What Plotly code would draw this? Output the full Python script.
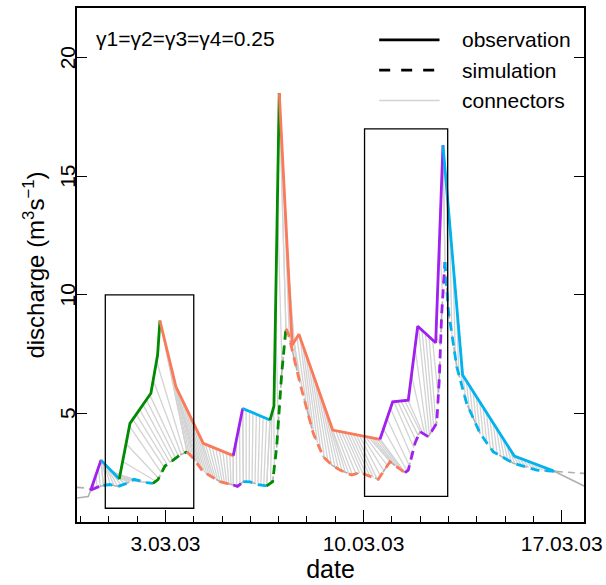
import numpy as np
import pandas as pd
import plotly.graph_objects as go

# ---------------- data ----------------
obs_time = ["2003-02-27 21:00", "2003-02-28 06:30", "2003-02-28 08:30", "2003-02-28 17:20",
            "2003-03-01 08:50", "2003-03-01 17:55", "2003-03-02 11:40", "2003-03-02 17:20",
            "2003-03-02 19:20", "2003-03-03 08:55", "2003-03-04 08:05", "2003-03-05 09:30",
            "2003-03-05 17:30", "2003-03-06 16:40", "2003-03-06 20:00", "2003-03-07 00:30",
            "2003-03-07 11:30", "2003-03-07 17:10", "2003-03-08 21:50", "2003-03-10 13:55",
            "2003-03-11 00:40", "2003-03-11 13:55", "2003-03-11 21:55", "2003-03-12 13:10",
            "2003-03-12 19:20", "2003-03-13 12:00", "2003-03-15 07:50", "2003-03-16 16:50",
            "2003-03-17 18:55"]
obs_value = [1.43, 1.49, 1.74, 3.03, 2.23, 4.58, 5.85, 7.46, 8.91, 6.12, 3.74, 3.22,
             5.21, 4.72, 5.31, 18.51, 7.88, 8.34, 4.30, 3.91, 5.49, 5.56, 8.68, 7.98,
             16.31, 6.62, 3.20, 2.58, 1.94]

sim_time = ["2003-02-27 21:00", "2003-02-28 06:15", "2003-02-28 08:50", "2003-02-28 13:55",
            "2003-02-28 19:25", "2003-03-01 00:55", "2003-03-01 07:40", "2003-03-01 15:05",
            "2003-03-01 21:15", "2003-03-02 02:25", "2003-03-02 08:20", "2003-03-02 13:25",
            "2003-03-02 17:40", "2003-03-02 23:35", "2003-03-03 06:40", "2003-03-03 12:15",
            "2003-03-03 18:15", "2003-03-03 23:35", "2003-03-04 08:05", "2003-03-04 22:15",
            "2003-03-05 09:30", "2003-03-05 13:05", "2003-03-05 18:00", "2003-03-05 23:40",
            "2003-03-06 06:30", "2003-03-06 13:50", "2003-03-06 18:55", "2003-03-06 22:20",
            "2003-03-07 02:35", "2003-03-07 06:10", "2003-03-07 08:10", "2003-03-07 18:05",
            "2003-03-08 05:20", "2003-03-08 13:50", "2003-03-08 21:10", "2003-03-09 04:00",
            "2003-03-09 13:55", "2003-03-09 21:00", "2003-03-10 12:25", "2003-03-10 22:25",
            "2003-03-11 11:05", "2003-03-11 13:55", "2003-03-11 19:35", "2003-03-11 23:50",
            "2003-03-12 06:50", "2003-03-12 14:00", "2003-03-12 16:10", "2003-03-12 18:15",
            "2003-03-12 21:00", "2003-03-12 23:50", "2003-03-13 07:00", "2003-03-13 15:25",
            "2003-03-14 02:45", "2003-03-14 14:00", "2003-03-15 07:00", "2003-03-16 02:50",
            "2003-03-16 22:35", "2003-03-17 18:55"]
sim_value = [1.88, 1.85, 1.77, 1.88, 1.96, 2.00, 1.92, 2.05, 2.22, 2.15, 2.08, 2.05,
             2.21, 2.78, 3.03, 3.24, 3.38, 3.11, 2.54, 2.12, 1.98, 1.92, 2.12, 2.11,
             2.00, 1.94, 2.12, 3.59, 6.69, 8.58, 8.37, 6.27, 4.16, 3.17, 2.82, 2.61,
             2.40, 2.50, 2.22, 2.96, 2.50, 2.61, 3.74, 4.23, 4.02, 4.58, 6.41, 9.22,
             11.38, 9.36, 6.97, 5.42, 4.16, 3.38, 2.90, 2.61, 2.54, 2.47]

# segment borders (indices into the series) and segment colours
obs_break_idx = [2, 3, 4, 8, 11, 12, 13, 15, 19, 24, 27]
sim_break_idx = [2, 4, 11, 16, 20, 22, 25, 29, 40, 48, 56]
segment_colors = ["#A020F0", "#00B2EE", "#008B00", "#FA7A5A",
                  "#A020F0", "#00B2EE", "#008B00", "#FA7A5A",
                  "#A020F0", "#00B2EE"]

# highlight boxes
box_x0 = ["2003-02-28 21:00", "2003-03-10 00:50"]
box_x1 = ["2003-03-04 00:00", "2003-03-12 23:20"]
box_y0 = [1.0, 1.5]
box_y1 = [10.0, 17.0]

x_range = ["2003-02-27 21:00", "2003-03-17 18:55"]
y_range = [0.42, 22.1]
x_tick_vals = ["2003-03-03", "2003-03-10", "2003-03-17"]
y_tick_vals = [5, 10, 15, 20]
y_tick_text = ["5", "10", "15", "20"]

# ---------------- build figure ----------------
ot = pd.to_datetime(obs_time)
st = pd.to_datetime(sim_time)
ov = np.array(obs_value)
sv = np.array(sim_value)
ot_num = ot.astype("int64").to_numpy().astype(float)
st_num = st.astype("int64").to_numpy().astype(float)

FONT = "Liberation Sans, Arial, Helvetica, sans-serif"
LW = 2.8
fig = go.Figure()

# connectors between matched segment points
cx, cy = [], []
step = 3 * 3600e9  # ns
for k in range(len(segment_colors)):
    oa, ob = obs_break_idx[k], obs_break_idx[k + 1]
    sa, sb = sim_break_idx[k], sim_break_idx[k + 1]
    dur = max(ot_num[ob] - ot_num[oa], st_num[sb] - st_num[sa])
    n = max(4, int(round(dur / step)) + 1)
    f = np.linspace(0, 1, n)
    to = ot_num[oa] + f * (ot_num[ob] - ot_num[oa])
    ts = st_num[sa] + f * (st_num[sb] - st_num[sa])
    vo = np.interp(to, ot_num, ov)
    vs = np.interp(ts, st_num, sv)
    for a, b, c, d in zip(to, ts, vo, vs):
        cx += [pd.Timestamp(int(a)), pd.Timestamp(int(b)), None]
        cy += [c, d, None]
fig.add_trace(go.Scatter(x=cx, y=cy, mode="lines", line=dict(color="#D3D3D3", width=1.3),
                         hoverinfo="skip", showlegend=False))

# full series in grey underneath
fig.add_trace(go.Scatter(x=ot, y=ov, mode="lines", line=dict(color="#B0B0B0", width=1.6),
                         showlegend=False))
fig.add_trace(go.Scatter(x=st, y=sv, mode="lines",
                         line=dict(color="#B0B0B0", width=1.6, dash="7px,5px"),
                         showlegend=False))

# coloured segments
for k, col in enumerate(segment_colors):
    oa, ob = obs_break_idx[k], obs_break_idx[k + 1]
    sa, sb = sim_break_idx[k], sim_break_idx[k + 1]
    fig.add_trace(go.Scatter(x=ot[oa:ob + 1], y=ov[oa:ob + 1], mode="lines",
                             line=dict(color=col, width=LW), showlegend=False))
    fig.add_trace(go.Scatter(x=st[sa:sb + 1], y=sv[sa:sb + 1], mode="lines",
                             line=dict(color=col, width=LW, dash="9px,6px"), showlegend=False))

# highlight rectangles
for x0, x1, y0, y1 in zip(box_x0, box_x1, box_y0, box_y1):
    fig.add_shape(type="rect", xref="x", yref="y", x0=x0, x1=x1, y0=y0, y1=y1,
                  line=dict(color="black", width=1.3), fillcolor="rgba(0,0,0,0)")

# manual legend (paper coordinates)
legend_items = [("observation", "black", None, 2.8),
                ("simulation", "black", "dash", 2.8),
                ("connectors", "#D3D3D3", None, 1.5)]
leg_y = [0.938, 0.879, 0.820]
for (lab, col, dsh, w), yy in zip(legend_items, leg_y):
    fig.add_shape(type="line", xref="paper", yref="paper", x0=0.596, x1=0.715, y0=yy, y1=yy,
                  line=dict(color=col, width=w, dash="11px,11px" if dsh else "solid"))
    fig.add_annotation(xref="paper", yref="paper", x=0.755, y=yy, text=lab, showarrow=False,
                       xanchor="left", yanchor="middle", font=dict(family=FONT, size=21, color="black"))

fig.add_annotation(xref="paper", yref="paper", x=0.034, y=0.940, text="γ1=γ2=γ3=γ4=0.25",
                   showarrow=False, xanchor="left", yanchor="middle",
                   font=dict(family=FONT, size=21, color="black"))

# vertical y tick labels (R style, reading upward)
for v, t in zip(y_tick_vals, y_tick_text):
    fig.add_annotation(xref="paper", yref="y", x=-0.0187, y=v, text=t, showarrow=False,
                       textangle=-90, xanchor="center", yanchor="middle",
                       font=dict(family=FONT, size=21, color="black"))

fig.update_layout(
    width=606, height=585,
    margin=dict(l=77, r=22, t=8, b=63),
    paper_bgcolor="white", plot_bgcolor="white",
    font=dict(family=FONT, size=21, color="black"),
    showlegend=False,
    xaxis=dict(range=x_range, type="date", tickvals=x_tick_vals, tickformat="%-d.%m.%y",
               ticks="inside", ticklen=12, tickwidth=1.3, tickcolor="black",
               minor=dict(dtick=86400000, tick0="2003-03-03", ticks="inside", ticklen=6,
                          tickwidth=1.2, tickcolor="black", showgrid=False),
               showline=True, linecolor="black", linewidth=1.5, mirror=True,
               showgrid=False, zeroline=False, automargin=False, ticklabelstandoff=2,
               title=dict(text="date", font=dict(size=25), standoff=2)),
    yaxis=dict(range=y_range, tickvals=y_tick_vals, showticklabels=False,
               ticks="inside", ticklen=10, tickwidth=1.3, tickcolor="black",
               showline=True, linecolor="black", linewidth=1.5, mirror="ticks",
               showgrid=False, zeroline=False, automargin=False,
               title=dict(text="discharge (m<sup>3</sup>s<sup>−1</sup>)", font=dict(size=24), standoff=24)),
)

fig.write_html("out.html", config={"displayModeBar": False},
               post_script="document.body.style.margin='0';")
